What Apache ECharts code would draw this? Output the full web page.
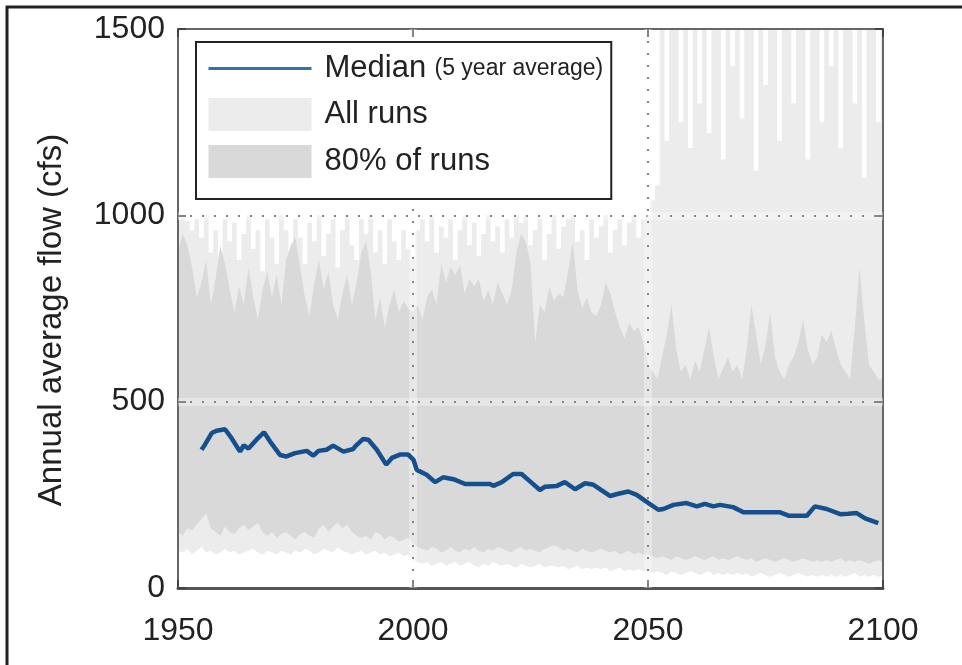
<!DOCTYPE html>
<html><head><meta charset="utf-8">
<script src="https://cdn.jsdelivr.net/npm/echarts@6/dist/echarts.min.js"></script>
<style>html,body{margin:0;padding:0;background:#fff}#c{width:962px;height:665px}</style>
</head><body><div id="c"></div>
<script>
const xTicks = [1950, 2000, 2050, 2100];
const yTicks = [0, 500, 1000, 1500];
const yAxisTitle = 'Annual average flow (cfs)';

// Median (5 year average): [year] and [cfs]
const medianYears = [1955.0,1955.7,1957.2,1958.2,1960.0,1961.4,1963.2,1964.0,1965.0,1966.7,
  1968.3,1969.6,1971.7,1973.1,1974.9,1977.4,1978.8,1979.9,1981.6,1983.0,
  1985.2,1987.3,1987.7,1989.4,1990.5,1992.3,1994.3,1995.5,1997.2,1999.0,
  2000.1,2000.8,2002.9,2004.7,2006.4,2008.6,2011.1,2016.4,2017.1,2018.9,
  2021.3,2023.1,2024.9,2027.0,2028.1,2030.6,2032.3,2034.5,2036.6,2038.4,
  2041.9,2043.7,2045.8,2047.6,2050.1,2052.2,2053.3,2055.4,2058.2,2060.4,
  2062.1,2063.9,2065.3,2068.1,2070.3,2074.5,2078.1,2079.9,2083.8,2085.5,
  2088.0,2090.9,2092.6,2094.4,2096.2,2099.0];
const medianValues = [371,384,416,422,426,402,366,383,374,398,
  418,393,357,353,362,368,355,368,371,382,
  366,373,380,400,398,371,331,349,358,358,
  344,317,304,284,297,292,279,279,274,284,
  306,306,286,263,272,274,284,265,281,277,
  247,253,259,250,228,210,212,223,228,219,
  226,219,223,217,203,203,203,194,194,219,
  212,198,199,201,187,174];

// Bands, one value per year from 1950 to 2100
const bandFirstYear = 1950;
const allRunsUpper = [
  990,1000,985,960,990,940,1000,900,960,870,
  990,930,980,880,950,1000,910,960,850,990,
  940,870,1000,960,900,990,940,870,980,930,
  1000,890,950,990,860,960,1000,920,880,990,
  950,1000,900,960,870,990,930,880,960,910,
  880,960,990,930,1000,900,970,940,990,880,
  960,1000,920,980,890,950,1000,930,970,900,
  990,940,1000,980,1000,920,960,990,880,950,
  1000,910,970,990,1000,930,960,880,990,940,
  970,1000,900,960,990,920,980,1000,940,990,
  1000,1040,1080,1500,1200,1500,1500,1250,1500,1180,
  1500,1300,1500,1220,1500,1500,1150,1500,1400,1500,
  1260,1500,1500,1120,1500,1350,1500,1500,1200,1500,
  1500,1300,1500,1500,1150,1500,1500,1250,1500,1400,
  1500,1180,1500,1500,1300,1500,1100,1500,1500,1250,
  1500];
const runs80Upper = [
  900,950,920,860,780,820,880,760,830,920,
  870,800,740,810,760,860,780,720,800,850,
  780,840,760,880,920,940,860,780,730,820,
  880,800,850,760,720,790,840,760,820,900,
  930,850,720,780,700,760,800,740,770,750,
  740,760,720,780,800,760,870,820,860,840,
  865,790,830,810,830,770,800,760,820,790,
  760,800,900,950,930,870,660,760,740,810,
  770,790,780,850,930,800,750,780,740,730,
  760,820,790,740,700,670,710,690,700,660,
  600,580,560,620,680,760,640,580,600,560,
  610,580,640,700,620,560,590,620,580,600,
  560,640,760,680,600,650,740,620,580,560,
  600,620,660,720,640,600,620,680,660,690,
  640,600,580,560,700,860,720,600,580,560,
  560];
const runs80Lower = [
  150,140,160,155,170,185,200,160,150,140,
  165,150,145,160,170,155,165,175,150,140,
  150,135,145,150,140,130,145,150,140,135,
  160,170,150,165,175,160,170,150,140,135,
  140,130,150,145,130,140,135,125,130,135,
  120,110,105,100,110,105,95,100,110,100,
  95,105,100,110,100,95,105,100,110,105,
  100,95,105,110,100,105,100,95,105,110,
  115,110,100,105,100,95,105,100,95,100,
  105,100,95,100,90,95,100,90,95,90,
  90,85,80,85,80,75,85,80,75,80,
  85,80,75,80,85,75,80,75,80,85,
  80,75,80,70,75,80,75,70,75,80,
  75,70,75,80,75,70,75,70,75,70,
  75,80,70,75,70,75,70,65,70,75,
  70];
const allRunsLower = [
  100,95,105,90,100,110,95,100,90,95,
  105,95,100,90,95,100,105,95,90,100,
  95,90,100,95,90,100,95,105,100,90,
  95,105,100,95,110,100,95,90,95,100,
  90,95,100,90,95,85,90,95,85,90,
  75,70,65,70,60,65,70,60,65,70,
  60,65,70,60,55,65,60,70,65,60,
  65,60,55,65,60,55,60,65,55,60,
  60,55,60,50,55,60,50,55,50,55,
  50,55,45,50,55,45,50,45,50,45,
  45,40,45,40,35,45,40,35,40,45,
  40,35,40,45,35,40,35,40,35,40,
  35,40,30,35,40,35,30,35,40,35,
  30,35,40,35,30,35,30,35,30,35,
  30,35,30,35,40,30,35,30,35,30,
  35];

const FONT = 'Liberation Sans, Arial, sans-serif';
const bandYears = allRunsUpper.map((_, i) => bandFirstYear + i);
const toPairs = arr => arr.map((v, i) => [bandYears[i], v]);
const medianPairs = medianYears.map((y, i) => [y, medianValues[i]]);

const C_ALL = '#ececec', C_80 = '#d9d9d9';

function band(name, arr, color, step) {
  return {
    name, type: 'line', data: toPairs(arr), symbol: 'none', z: 2, step: step || false,
    color: color, itemStyle: {color: color},
    lineStyle: {width: 0, color: color},
    areaStyle: {color: color, opacity: 1, origin: 'start'},
    silent: true, animation: false
  };
}

const chart = echarts.init(document.getElementById('c'), null, {renderer: 'canvas'});
const axisCommonX = {
  type: 'value', min: xTicks[0], max: xTicks[xTicks.length - 1],
  interval: xTicks[1] - xTicks[0], z: 4
};
const axisCommonY = {
  type: 'value', min: yTicks[0], max: yTicks[yTicks.length - 1],
  interval: yTicks[1] - yTicks[0], z: 4
};
const plain = v => String(v);
chart.setOption({
  animation: false,
  backgroundColor: '#fff',
  grid: {left: 178, right: 79, top: 29, bottom: 77},
  xAxis: [
    Object.assign({}, axisCommonX, {
      position: 'bottom',
      axisLine: {show: true, onZero: false, lineStyle: {color: '#555', width: 3}},
      axisTick: {show: true, inside: true, length: 8, lineStyle: {color: '#444', width: 2}},
      axisLabel: {show: true, fontFamily: FONT, fontSize: 32, color: '#222', margin: 27,
        formatter: plain, showMinLabel: true, showMaxLabel: true},
      splitLine: {show: true, lineStyle: {color: '#444', width: 2, type: [2, 10]}}
    }),
    Object.assign({}, axisCommonX, {
      position: 'top',
      axisLine: {show: true, onZero: false, lineStyle: {color: '#666', width: 2}},
      axisTick: {show: true, inside: true, length: 8, lineStyle: {color: '#444', width: 2}},
      axisLabel: {show: false}, splitLine: {show: false}
    })
  ],
  yAxis: [
    Object.assign({}, axisCommonY, {
      position: 'left',
      axisLine: {show: true, onZero: false, lineStyle: {color: '#666', width: 2}},
      axisTick: {show: true, inside: true, length: 8, lineStyle: {color: '#444', width: 2}},
      axisLabel: {show: true, fontFamily: FONT, fontSize: 32, color: '#222', margin: 13,
        formatter: plain, showMinLabel: true, showMaxLabel: true},
      splitLine: {show: true, lineStyle: {color: '#444', width: 2, type: [2, 10]}}
    }),
    Object.assign({}, axisCommonY, {
      position: 'right',
      axisLine: {show: true, onZero: false, lineStyle: {color: '#666', width: 2}},
      axisTick: {show: true, inside: true, length: 8, lineStyle: {color: '#444', width: 2}},
      axisLabel: {show: false}, splitLine: {show: false}
    })
  ],
  legend: {
    orient: 'vertical', left: 196, top: 42, z: 10,
    padding: [11, 8, 21, 11], itemGap: 14, itemWidth: 103, itemHeight: 33,
    backgroundColor: '#fff', borderColor: '#222', borderWidth: 2, borderRadius: 0,
    selectedMode: false,
    textStyle: {fontFamily: FONT, fontSize: 30, color: '#222', padding: [0, 0, 0, 8],
      rich: {
        a: {fontFamily: FONT, fontSize: 31, color: '#222'},
        b: {fontFamily: FONT, fontSize: 23, color: '#222'}
      }},
    formatter: n => n === 'Median' ? '{a|Median} {b|(5 year average)}' : '{a|' + n + '}',
    data: [
      {name: 'Median', lineStyle: {width: 3, color: '#3a6ea8'},
        itemStyle: {color: 'rgba(0,0,0,0)', opacity: 0, borderWidth: 0}},
      {name: 'All runs', icon: 'rect'},
      {name: '80% of runs', icon: 'rect'}
    ]
  },
  graphic: [{
    type: 'polyline', silent: true, z: 100,
    shape: {points: [[7, 665], [7, 7], [962, 7]]},
    style: {stroke: '#222', lineWidth: 3, fill: null}
  }, {
    type: 'text', silent: true, z: 100, x: 52, y: 320, rotation: Math.PI / 2,
    style: {text: yAxisTitle, font: '33px ' + FONT, fill: '#222',
      align: 'center', verticalAlign: 'middle'}
  }],
  series: [
    band('All runs', allRunsUpper, C_ALL, 'middle'),
    band('80% of runs', runs80Upper, C_80),
    band('All runs (lower part)', runs80Lower, C_ALL),
    band('Below all runs', allRunsLower, '#ffffff'),
    {
      name: 'grid halo', type: 'line', data: [], z: 3, silent: true,
      markLine: {
        silent: true, symbol: ['none', 'none'], label: {show: false}, animation: false,
        lineStyle: {color: 'rgba(255,255,255,0.35)', width: 8, type: 'solid'},
        data: [{yAxis: yTicks[1]}, {yAxis: yTicks[2]}, {xAxis: xTicks[1]}, {xAxis: xTicks[2]}]
      }
    },
    {
      name: 'Median', type: 'line', data: medianPairs, symbol: 'none', z: 6,
      color: '#154f8e',
      lineStyle: {color: '#154f8e', width: 4.5}
    }
  ]
});
</script></body></html>
